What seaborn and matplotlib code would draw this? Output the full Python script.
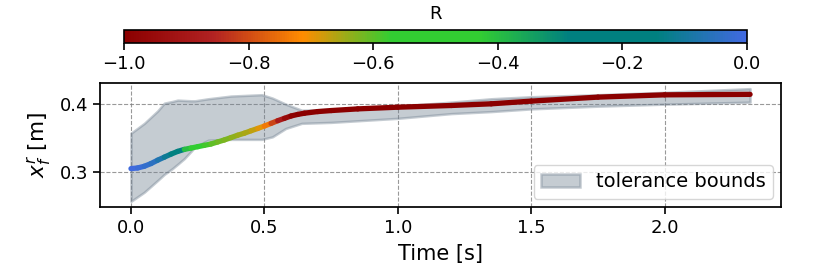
#!/usr/bin/env python3
"""
Reference trajectory x_f^r over time, coloured by R, with tolerance bounds.
"""

import numpy as np
import matplotlib
matplotlib.use("Agg")
import matplotlib.pyplot as plt
from matplotlib.collections import LineCollection
from matplotlib.colors import LinearSegmentedColormap, Normalize
import seaborn as sns

# Trajectory
TIME = [0.0, 0.025, 0.05, 0.075, 0.10, 0.125, 0.15, 0.175, 0.20, 0.225, 0.25,
        0.275, 0.30, 0.325, 0.35, 0.375, 0.40, 0.425, 0.45, 0.475, 0.50, 0.525,
        0.55, 0.575, 0.60, 0.625, 0.65, 0.70, 0.75, 0.85, 1.0, 1.2, 1.35, 1.5,
        1.75, 2.0, 2.32]
X_REF = [0.3045, 0.3055, 0.308, 0.312, 0.317, 0.3215, 0.326, 0.330, 0.333,
         0.335, 0.337, 0.339, 0.341, 0.344, 0.347, 0.3505, 0.354, 0.357, 0.3606,
         0.364, 0.3676, 0.3715, 0.3755, 0.379, 0.3825, 0.3848, 0.3866, 0.389,
         0.3905, 0.393, 0.3955, 0.398, 0.4005, 0.4045, 0.4104, 0.4138, 0.4145]
R_VALUES = [0.0, -0.01, -0.025, -0.04, -0.06, -0.09, -0.14, -0.22, -0.35, -0.45,
            -0.52, -0.57, -0.60, -0.61, -0.62, -0.63, -0.64, -0.65, -0.66, -0.68,
            -0.71, -0.77, -0.85, -0.93, -0.98, -1.0, -1.0, -1.0, -1.0, -1.0, -1.0,
            -1.0, -1.0, -1.0, -1.0, -1.0, -1.0]

# Tolerance band
BAND_TIME = [0.0, 0.05, 0.10, 0.125, 0.155, 0.175, 0.20, 0.225, 0.24, 0.29,
             0.375, 0.49, 0.53, 0.58, 0.64, 0.75, 1.0, 1.2, 1.35, 1.5, 1.75,
             2.0, 2.32]
BAND_UPPER = [0.357, 0.3716, 0.390, 0.4015, 0.404, 0.406, 0.4055, 0.405, 0.405,
              0.408, 0.412, 0.414, 0.409, 0.400, 0.391, 0.3925, 0.397, 0.403,
              0.408, 0.411, 0.414, 0.4175, 0.423]
BAND_LOWER = [0.256, 0.2696, 0.287, 0.296, 0.3045, 0.311, 0.3194, 0.330, 0.3367,
              0.3467, 0.3478, 0.3478, 0.3516, 0.364, 0.3716, 0.373, 0.379, 0.386,
              0.389, 0.393, 0.397, 0.400, 0.403]

X_TICKS = [0.0, 0.5, 1.0, 1.5, 2.0]
Y_TICKS = [0.3, 0.4]
CBAR_TICKS = [-1.0, -0.8, -0.6, -0.4, -0.2, 0.0]

CMAP_COLORS = ["darkred", "firebrick", "darkorange", "limegreen", "limegreen",
               "teal", "teal", "royalblue"]


def main():
    sns.set_theme(style="ticks")
    plt.rcParams["font.family"] = ["DejaVu Sans"]
    for key in ["axes.edgecolor", "xtick.color", "ytick.color", "text.color",
                "axes.labelcolor"]:
        plt.rcParams[key] = "black"

    cmap = LinearSegmentedColormap.from_list("r_cmap", CMAP_COLORS)
    norm = Normalize(vmin=-1.0, vmax=0.0)

    fig = plt.figure(figsize=(8.3, 2.77), dpi=100)
    ax = fig.add_axes([0.1205, 0.2527, 0.8205, 0.4477])
    cax = fig.add_axes([0.1494, 0.843, 0.7506, 0.0487])

    # tolerance band
    ax.fill_between(BAND_TIME, BAND_LOWER, BAND_UPPER, color="slategray",
                    alpha=0.4, linewidth=1.8, label="tolerance bounds")

    # trajectory coloured by R
    pts = np.column_stack([TIME, X_REF]).reshape(-1, 1, 2)
    segs = np.concatenate([pts[:-1], pts[1:]], axis=1)
    r = np.asarray(R_VALUES)
    lc = LineCollection(segs, cmap=cmap, norm=norm, linewidth=3.8,
                        capstyle="round", zorder=3)
    lc.set_array((r[:-1] + r[1:]) / 2)
    ax.add_collection(lc)
    ax.autoscale_view()

    ax.grid(True, linestyle="--", color="gray", alpha=0.8, linewidth=0.8)
    ax.set_xticks(X_TICKS)
    ax.set_yticks(Y_TICKS)
    ax.tick_params(labelsize=13, length=5, width=1.2)
    ax.set_xlabel("Time [s]", fontsize=15, labelpad=5)
    ax.set_ylabel(r"$x_f^r$ [m]", fontsize=15.5, labelpad=4)
    ax.legend(loc="lower right", fontsize=14, borderaxespad=0.4)

    sm = plt.cm.ScalarMappable(cmap=cmap, norm=norm)
    cb = fig.colorbar(sm, cax=cax, orientation="horizontal", ticks=CBAR_TICKS)
    cb.set_label("R", fontsize=13, labelpad=8)
    cax.xaxis.set_label_position("top")
    cax.tick_params(labelsize=13, length=5, width=1.2)
    cb.outline.set_linewidth(1.2)

    fig.savefig("out.png", dpi=100)
    plt.close(fig)


if __name__ == "__main__":
    main()
